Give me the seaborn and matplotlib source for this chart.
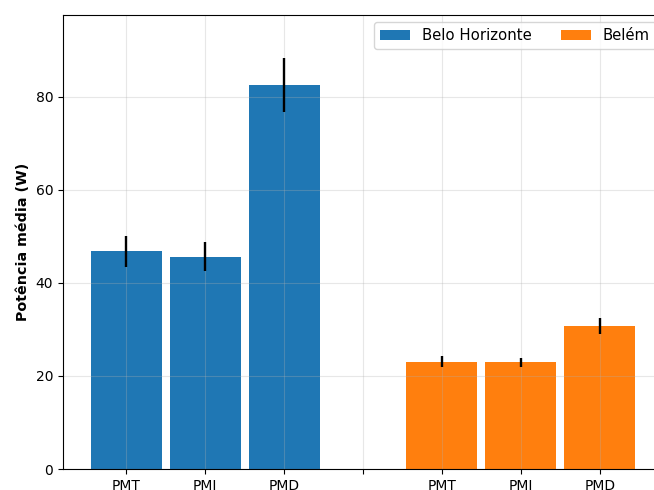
import matplotlib
matplotlib.use("Agg")
import matplotlib.pyplot as plt
import seaborn as sns
import pandas as pd

# Mean power per method and city, with standard deviation
cities = ["Belo Horizonte", "Belo Horizonte", "Belo Horizonte", "Belém", "Belém", "Belém"]
methods = ["PMT", "PMI", "PMD", "PMT", "PMI", "PMD"]
positions = [0, 1, 2, 4, 5, 6]
mean_power = [46.8, 45.6, 82.6, 23.1, 22.9, 30.8]
std_power = [3.3, 3.1, 5.8, 1.1, 0.9, 1.7]

tick_positions = [0, 1, 2, 3, 4, 5, 6]
tick_labels = ["PMT", "PMI", "PMD", "", "PMT", "PMI", "PMD"]

df = pd.DataFrame({"pos": positions, "power": mean_power, "city": cities,
                   "method": methods, "std": std_power})

fig = plt.figure(figsize=(6.54, 4.90), dpi=100)
ax = fig.add_axes([63 / 654, 21 / 490, 600 / 654, 454 / 490])

sns.barplot(data=df, x="pos", y="power", hue="city", native_scale=True,
            dodge=False, width=0.9, saturation=1, errorbar=None,
            palette=["#1f77b4", "#ff7f0e"], ax=ax)
ax.errorbar(df["pos"], df["power"], yerr=df["std"], fmt="none",
            ecolor="black", elinewidth=1.7, capsize=0)

ax.set_xticks(tick_positions)
ax.set_xticklabels(tick_labels)
ax.set_xlim(-0.8, 6.8)
ax.set_ylim(0, 97.6)
ax.set_xlabel("")
ax.set_ylabel("Potência média (W)", fontweight="bold", fontsize=10.3)
ax.grid(True, alpha=0.3)
ax.legend(ncol=2, loc="upper right", fontsize=10.7)

fig.savefig("out.png", dpi=100)
